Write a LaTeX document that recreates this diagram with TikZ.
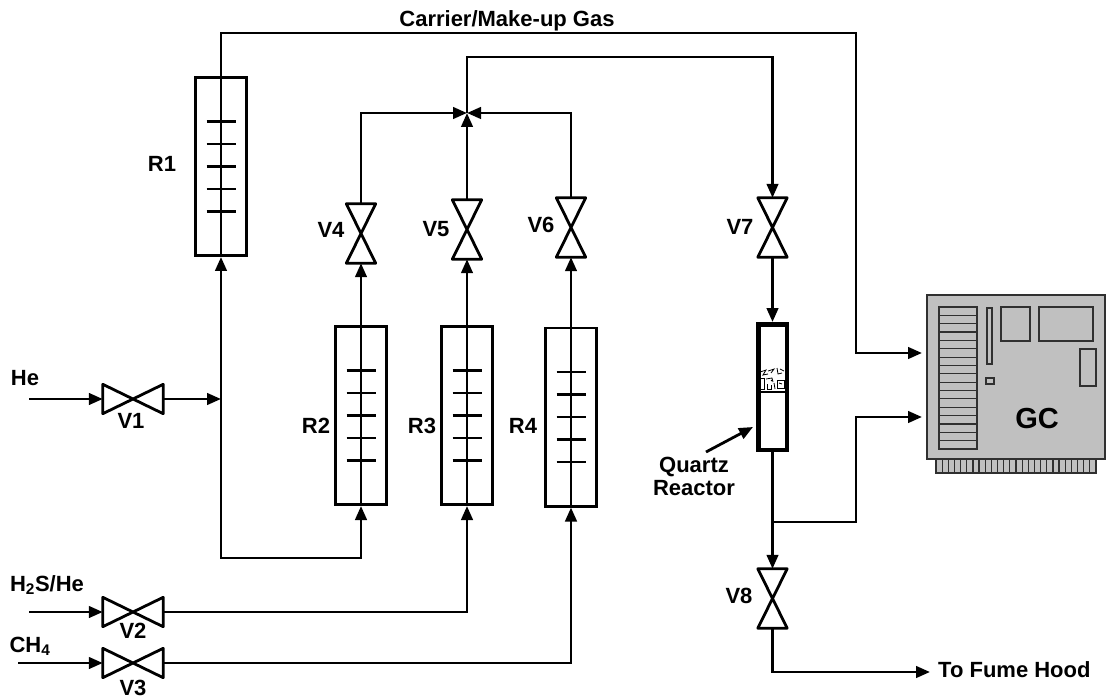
\documentclass[tikz,border=0pt]{standalone}
\usepackage{fontspec}
\setmainfont{Liberation Sans}
\usetikzlibrary{arrows.meta}

\definecolor{gcgray}{HTML}{C0C0C0}
\definecolor{gcline}{HTML}{303030}

% horizontal and vertical valve symbols (bow ties) drawn on a named node
\newcommand{\hvalve}[1]{\draw[pipe,line join=round] (#1.north west) -- (#1.south east) -- (#1.north east) -- (#1.south west) -- cycle;}
\newcommand{\vvalve}[1]{\draw[pipe,line join=round] (#1.north west) -- (#1.north east) -- (#1.south west) -- (#1.south east) -- cycle;}
% rotameter tube: centre line and five graduation marks
\newcommand{\rotamarks}[1]{%
  \draw[pipe] (#1.north) -- (#1.south);
  \foreach \dy in {-45,-22.5,0,22.5,45}
    \draw[pipe] ([shift={(-14.5,\dy)}]#1.center) -- ([shift={(14.5,\dy)}]#1.center);}

\begin{document}
\begin{tikzpicture}[x=1pt,y=-1pt,
  pipe/.style={line width=2.8pt},
  flow/.style={pipe,-{Triangle[length=14pt,width=11.5pt]}},
  lbl/.style={font=\fontsize{22}{25}\selectfont\bfseries, inner sep=0, anchor=base},
  column/.style={draw, line width=2.8pt, minimum width=51.2pt, minimum height=178.2pt, inner sep=0},
  valveh/.style={minimum width=60pt, minimum height=29pt, inner sep=0},
  valvev/.style={minimum width=29pt, minimum height=59pt, inner sep=0},
]
\useasboundingbox (0,0) rectangle (1107,700);
\fill[white] (0,0) rectangle (1107,700);

% ---------- rotameters ----------
\node[column] (r1) at (221,166.5) {};
\node[column] (r2) at (361,415.5) {};
\node[column] (r3) at (467,415.5) {};
\node[column] (r4) at (571,417) {};
\rotamarks{r1}\rotamarks{r2}\rotamarks{r3}\rotamarks{r4}
\node[lbl] (r1l) at (162,172) {R1};
\node[lbl] (r2l) at (316,433) {R2};
\node[lbl] (r3l) at (422,433) {R3};
\node[lbl] (r4l) at (523,433) {R4};

% ---------- valves ----------
\node[valveh] (v1) at (133,399) {};
\node[valveh] (v2) at (133,612) {};
\node[valveh] (v3) at (133,663) {};
\node[valvev] (v4) at (361,233.5) {};
\node[valvev] (v5) at (467,229.5) {};
\node[valvev] (v6) at (571,227.5) {};
\node[valvev] (v7) at (772.5,227.5) {};
\node[valvev] (v8) at (772.5,598.5) {};
\hvalve{v1}\hvalve{v2}\hvalve{v3}
\vvalve{v4}\vvalve{v5}\vvalve{v6}\vvalve{v7}\vvalve{v8}
\node[lbl] (v1l) at (131,428) {V1};
\node[lbl] (v2l) at (133,638) {V2};
\node[lbl] (v3l) at (133,695) {V3};
\node[lbl] (v4l) at (331,238) {V4};
\node[lbl] (v5l) at (436,237) {V5};
\node[lbl] (v6l) at (541,233) {V6};
\node[lbl] (v7l) at (740,235) {V7};
\node[lbl] (v8l) at (739,603) {V8};

% ---------- quartz reactor ----------
\node[draw, line width=4.5pt, minimum width=28.5pt, minimum height=125.5pt, inner sep=0] (qr) at (772.5,387) {};
\draw[pipe] (qr.west |- 0,392) -- (qr.east |- 0,392);
% catalyst bed
\begin{scope}[line width=0.8pt]
  \draw (760,372) -- (766,370) -- (763,375) -- (768,374);
  \draw (768,371) -- (774,369) -- (771,373);
  \draw (777,368) -- (778,374) -- (782,373);
  \draw (780,369) -- (784,371);
  \draw (760,378) rectangle (764,389);
  \draw (766,379) -- (772,378) -- (773,382);
  \draw (767,384) -- (767,389) -- (771,389) -- (771,385);
  \draw (774,383) -- (775,389);
  \draw (777,380) rectangle (784,388);
  \draw (779,383) -- (782,384);
  \draw (771,380) -- (772,381);
\end{scope}
\node[lbl] (qrl1) at (694,472) {Quartz};
\node[lbl] (qrl2) at (694,495) {Reactor};
\coordinate (qtail) at (706,452);
\coordinate (qtip) at (753,427);
\draw[flow] (qtail) -- (qtip);

% ---------- gas chromatograph ----------
\begin{scope}[draw=gcline, line width=1.2pt]
  \filldraw[fill=gcgray] (936,459) rectangle (1096,473);
  \foreach \i in {1,...,25}
    \draw (936+\i*6.154,459) -- (936+\i*6.154,473);
  \node[draw=gcline, fill=gcgray, line width=1.2pt, minimum width=178pt, minimum height=164pt, inner sep=0] (gc) at (1016,377) {};
  \draw (939,307) rectangle (977,449);
  \foreach \i in {1,...,16}
    \draw (939,307+\i*8.353) -- (977,307+\i*8.353);
  \draw (987,308) rectangle (992,364);
  \draw (986,378) rectangle (994,384);
  \draw (1001,307) rectangle (1030,341);
  \draw (1039,307) rectangle (1093,341);
  \draw (1080,349) rectangle (1096,386);
\end{scope}
\node[lbl, font=\fontsize{29}{32}\selectfont\bfseries] (gcl) at (1037,428) {GC};
\coordinate (gcin1) at (927,353);
\coordinate (gcin2) at (927,417);

% ---------- feed labels and inlets ----------
\node[lbl] (hel) at (25,385) {He};
\node[lbl] (h2sl) at (47,591) {H\textsubscript{2}S/He};
\node[lbl] (ch4l) at (30,652) {CH\textsubscript{4}};
\coordinate (hein) at (29,399);
\coordinate (h2sin) at (29,612);
\coordinate (ch4in) at (18,663);

% ---------- piping ----------
\coordinate (hej) at (221,399);
\coordinate (lowbend) at (221,558);
\coordinate (mix) at (467,113);
\coordinate (mixtop) at (467,57);
\coordinate (carbend) at (856,33);
\coordinate (split) at (772.5,522);
\coordinate (retbend) at (856,417);
\coordinate (hood) at (930,672);

\draw[flow] (hein) -- (v1);
\draw[flow] (v1) -- (hej);
\draw[flow] (hej) -- (r1.south);
\draw[flow] (hej) -- (lowbend) -| (r2.south);
\draw[flow] (h2sin) -- (v2);
\draw[flow] (v2) -| (r3.south);
\draw[flow] (ch4in) -- (v3);
\draw[flow] (v3) -| (r4.south);

\draw[flow] (r2.north) -- (v4.south);
\draw[flow] (r3.north) -- (v5.south);
\draw[flow] (r4.north) -- (v6.south);
\draw[flow] (v4.north) |- (mix);
\draw[flow] (v6.north) |- (mix);
\draw[flow] (v5.north) -- (mix);
\draw[flow] (mix) -- (mixtop) -| (v7.north);
\draw[flow] (v7.south) -- (qr.north);

\draw[flow, shorten >=5pt] (r1.north) |- (carbend) |- (gcin1);
\draw[pipe] (qr.south) -- (split);
\draw[flow, shorten >=5pt] (split) -| (retbend) -- (gcin2);
\draw[flow] (split) -- (v8.north);
\draw[flow] (v8.south) |- (hood);

\node[lbl] (carl) at (507,27) {Carrier/Make-up Gas};
\node[lbl, anchor=base west] (hoodl) at (938,677) {To Fume Hood};
\end{tikzpicture}
\end{document}
